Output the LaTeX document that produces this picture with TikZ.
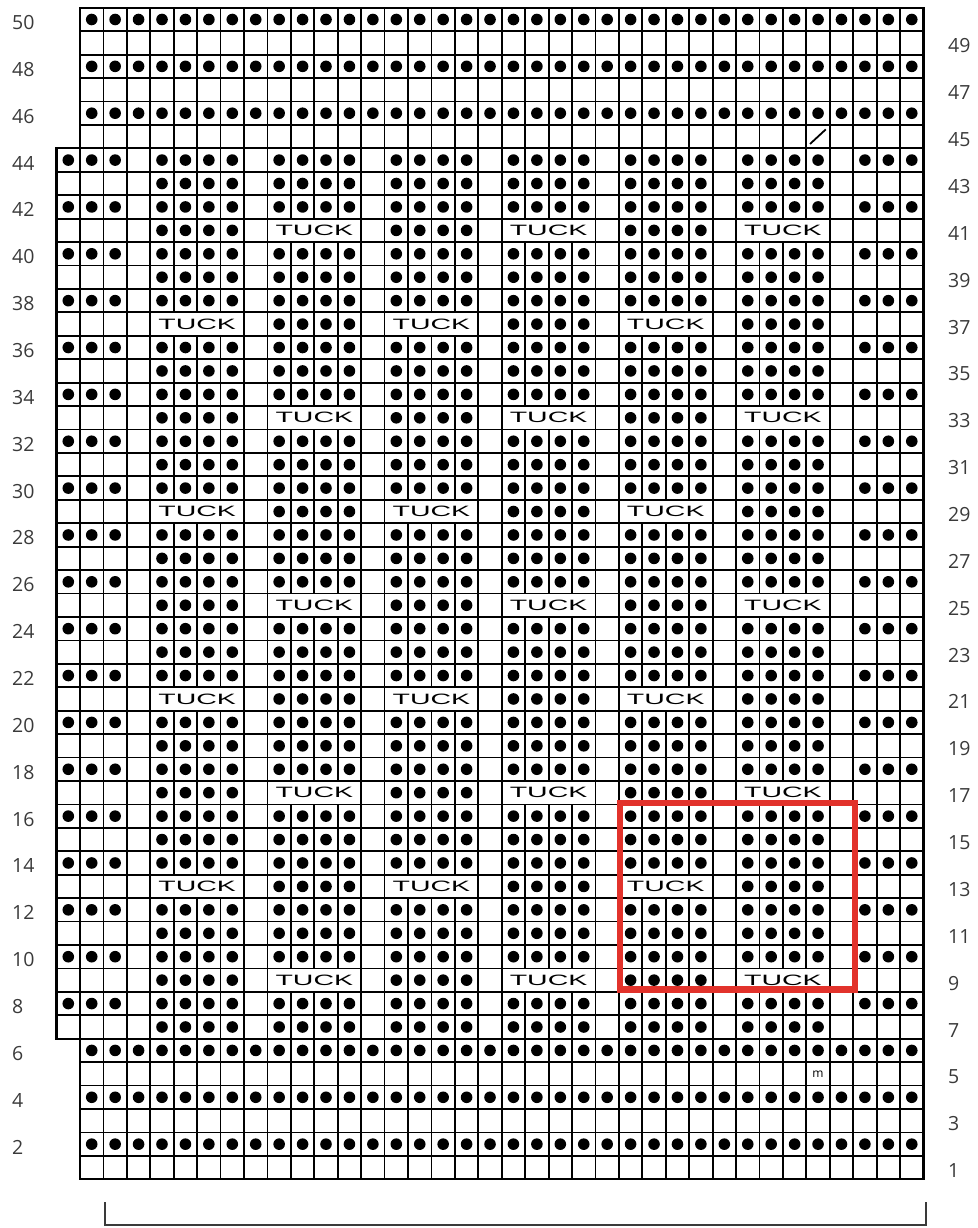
\documentclass[tikz,border=0pt]{standalone}
\usepackage{fontspec}
\setmainfont{Open Sans}
\newfontfamily\tuckfont{Liberation Sans}
\definecolor{lbl}{HTML}{3A3A3A}
\definecolor{boxred}{HTML}{E2322B}
\begin{document}
\begin{tikzpicture}[x=23.43pt,y=23.43pt,
  gridline/.style={line width=1.8pt, draw=black},
  outline/.style={line width=2.2pt, draw=black},
  rowlbl/.style={font=\fontsize{19.5}{20}\selectfont, text=lbl, inner sep=0pt, anchor=base west},
  tucklbl/.style={font=\tuckfont\fontsize{15}{15}\selectfont, inner sep=0pt},
  mlbl/.style={font=\fontsize{12}{12}\selectfont, inner sep=0pt},
  redbox/.style={draw=boxred, line width=6.5pt},
  bracket/.style={draw=lbl, line width=2.2pt}
]
\useasboundingbox (-80pt,-48.7pt) rectangle (897pt,1179.3pt);

% rows 1-6 and 45-50: 36 cells
\foreach \r in {1,2,3,4,5,6,45,46,47,48,49,50} {
  \foreach \c in {1,...,36} {
    \draw[gridline] (\c-1,\r-1) rectangle (\c,\r);
  }
  \ifodd\r\else
    \foreach \c in {1,...,36} {\fill (\c-0.5,\r-0.5) circle (5.8pt);}
  \fi
}

% rows 7-44: 37 cells, blocks of four
\foreach \r in {7,...,44} {
  \pgfmathtruncatemacro\m{mod(\r,8)}
  \foreach \c in {0,1,2,3,8,13,18,23,28,33,34,35,36} {
    \draw[gridline] (\c-1,\r-1) rectangle (\c,\r);
  }
  \ifodd\r\else
    \foreach \c in {0,1,2,34,35,36} {\fill (\c-0.5,\r-0.5) circle (5.8pt);}
  \fi
  \foreach \s [count=\i] in {4,9,14,19,24,29} {
    \pgfmathtruncatemacro\tk{((\m==1)&&(mod(\i,2)==0)) || ((\m==5)&&(mod(\i,2)==1)) ? 1 : 0}
    \ifnum\tk=1
      \draw[gridline] (\s-1,\r-1) rectangle (\s+3,\r);
      \node[tucklbl] (T-\r-\s) at (\s+1,\r-0.5) {\scalebox{1.9}[1]{TUCK}};
    \else
      \foreach \c in {\s,...,\numexpr\s+3\relax} {
        \draw[gridline] (\c-1,\r-1) rectangle (\c,\r);
        \fill (\c-0.5,\r-0.5) circle (5.8pt);
      }
    \fi
  }
}

% outer outline
\draw[outline] (0,0) -- (36,0) -- (36,50) -- (0,50) -- (0,44) -- (-1,44) -- (-1,6) -- (0,6) -- cycle;

% special symbols
\draw[line width=1.8pt] (31.16,44.19) -- (31.83,44.81);
\node[mlbl] (mark5) at (31.5,4.5) {m};

% row labels
\foreach \r in {2,4,...,50} {
  \node[rowlbl, xshift=-68pt, yshift=-10pt] (L\r) at (0,\r-0.5) {\r};
}
\foreach \r in {1,3,...,49} {
  \node[rowlbl, xshift=868pt, yshift=-10pt] (R\r) at (0,\r-0.5) {\r};
}

% red highlight
\draw[redbox] (23.05,8.1) rectangle (33.08,16.07);

% bracket
\coordinate (b1) at (1.07,-0.97);
\coordinate (b2) at (1.07,-1.95);
\coordinate (b3) at (36.09,-1.95);
\coordinate (b4) at (36.09,-0.97);
\draw[bracket] (b1) -- (b2) -- (b3) -- (b4);
\end{tikzpicture}
\end{document}
